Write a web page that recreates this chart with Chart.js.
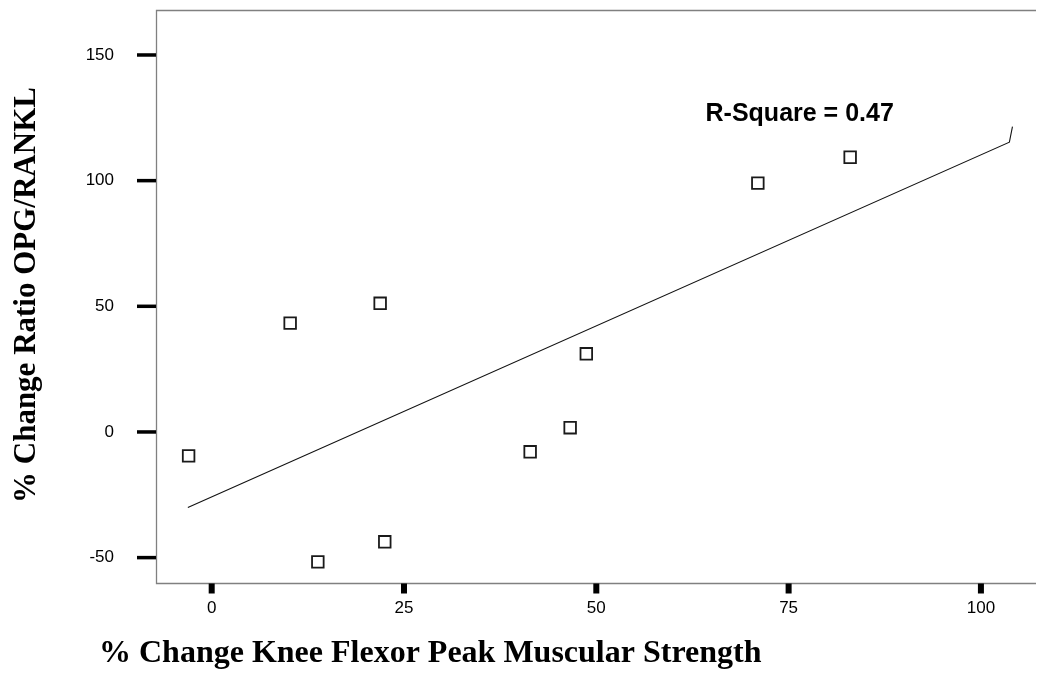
<!DOCTYPE html>
<html>
<head>
<meta charset="utf-8">
<script src="https://cdn.jsdelivr.net/npm/chart.js@4.4.1/dist/chart.umd.min.js"></script>
<style>
  body { margin: 0; background: #fff; }
  canvas { display: block; }
</style>
</head>
<body>
<canvas id="scatter" width="1044" height="679"></canvas>
<script>
// observed points
var strengthChange = [-3.0, 10.2, 21.9, 13.8, 22.5, 41.4, 46.6, 48.7, 71.0, 83.0];
var ratioChange = [-9.5, 43.3, 51.2, -51.7, -43.7, -7.9, 1.7, 31.1, 99.0, 109.3];

// fitted line as drawn (ends with a little hook at the right)
var fitX = [-3.1, 103.7, 104.1];
var fitY = [-30.1, 115.3, 121.5];

var xTicks = [0, 25, 50, 75, 100];
var yTicks = [-50, 0, 50, 100, 150];

var xTitle = "% Change Knee Flexor Peak Muscular Strength";
var yTitle = "% Change Ratio OPG/RANKL";
var fitLabel = "R-Square = 0.47";
var fitLabelAt = [64.2, 123.6];

function toPoints(xs, ys) {
  return xs.map(function(x, i) { return { x: x, y: ys[i] }; });
}

var frame = {
  id: "frame",
  beforeDraw: function(chart) {
    var ctx = chart.ctx;
    ctx.save();
    ctx.fillStyle = "#fff";
    ctx.fillRect(0, 0, chart.width, chart.height);
    ctx.restore();
  },
  afterDraw: function(chart) {
    var ctx = chart.ctx;
    var a = chart.chartArea;
    var xs = chart.scales.x;
    var ys = chart.scales.y;
    ctx.save();

    // box (right side is off the picture)
    ctx.strokeStyle = "#808080";
    ctx.lineWidth = 1.3;
    ctx.beginPath();
    ctx.moveTo(a.right + 2, a.top + 0.5);
    ctx.lineTo(a.left + 0.5, a.top + 0.5);
    ctx.lineTo(a.left + 0.5, a.bottom + 0.5);
    ctx.lineTo(a.right + 2, a.bottom + 0.5);
    ctx.stroke();

    // tick marks and labels
    ctx.fillStyle = "#000";
    ctx.font = "17px 'Liberation Sans', Arial, sans-serif";
    ctx.textBaseline = "middle";
    ctx.textAlign = "right";
    yTicks.forEach(function(v) {
      var py = ys.getPixelForValue(v);
      ctx.fillRect(a.left - 19, py - 1.75, 19, 3.5);
      ctx.fillText(String(v), a.left - 42, py);
    });
    ctx.textAlign = "center";
    xTicks.forEach(function(v) {
      var px = xs.getPixelForValue(v);
      ctx.fillRect(px - 3, a.bottom + 0.5, 6, 10);
      ctx.fillText(String(v), px, a.bottom + 25);
    });

    // titles
    ctx.font = "bold 32px 'Liberation Serif', 'Times New Roman', serif";
    ctx.textBaseline = "alphabetic";
    ctx.textAlign = "left";
    ctx.fillText(xTitle, 99, 662);

    ctx.font = "bold 31px 'Liberation Serif', 'Times New Roman', serif";
    ctx.save();
    ctx.translate(35, 503);
    ctx.rotate(-Math.PI / 2);
    ctx.fillText(yTitle, 0, 0);
    ctx.restore();

    // fit annotation
    ctx.font = "bold 25px 'Liberation Sans', Arial, sans-serif";
    ctx.fillText(fitLabel, xs.getPixelForValue(fitLabelAt[0]), ys.getPixelForValue(fitLabelAt[1]));

    ctx.restore();
  }
};

var chart = new Chart(document.getElementById("scatter").getContext("2d"), {
  type: "scatter",
  data: {
    datasets: [
      {
        type: "line",
        data: toPoints(fitX, fitY),
        borderColor: "#111",
        borderWidth: 1.1,
        pointRadius: 0,
        fill: false,
        tension: 0
      },
      {
        data: toPoints(strengthChange, ratioChange),
        pointStyle: "rect",
        pointRadius: 8.2,
        pointBorderWidth: 1.8,
        pointBorderColor: "#1a1a1a",
        pointBackgroundColor: "#fff"
      }
    ]
  },
  plugins: [frame],
  options: {
    responsive: false,
    animation: false,
    devicePixelRatio: 1,
    layout: { padding: { left: 156, top: 9, right: 0, bottom: 96 } },
    plugins: {
      legend: { display: false },
      tooltip: { enabled: false }
    },
    scales: {
      x: { type: "linear", min: -7.24, max: 106.9, display: false },
      y: { type: "linear", min: -60.1, max: 167.9, display: false }
    }
  }
});
</script>
</body>
</html>
